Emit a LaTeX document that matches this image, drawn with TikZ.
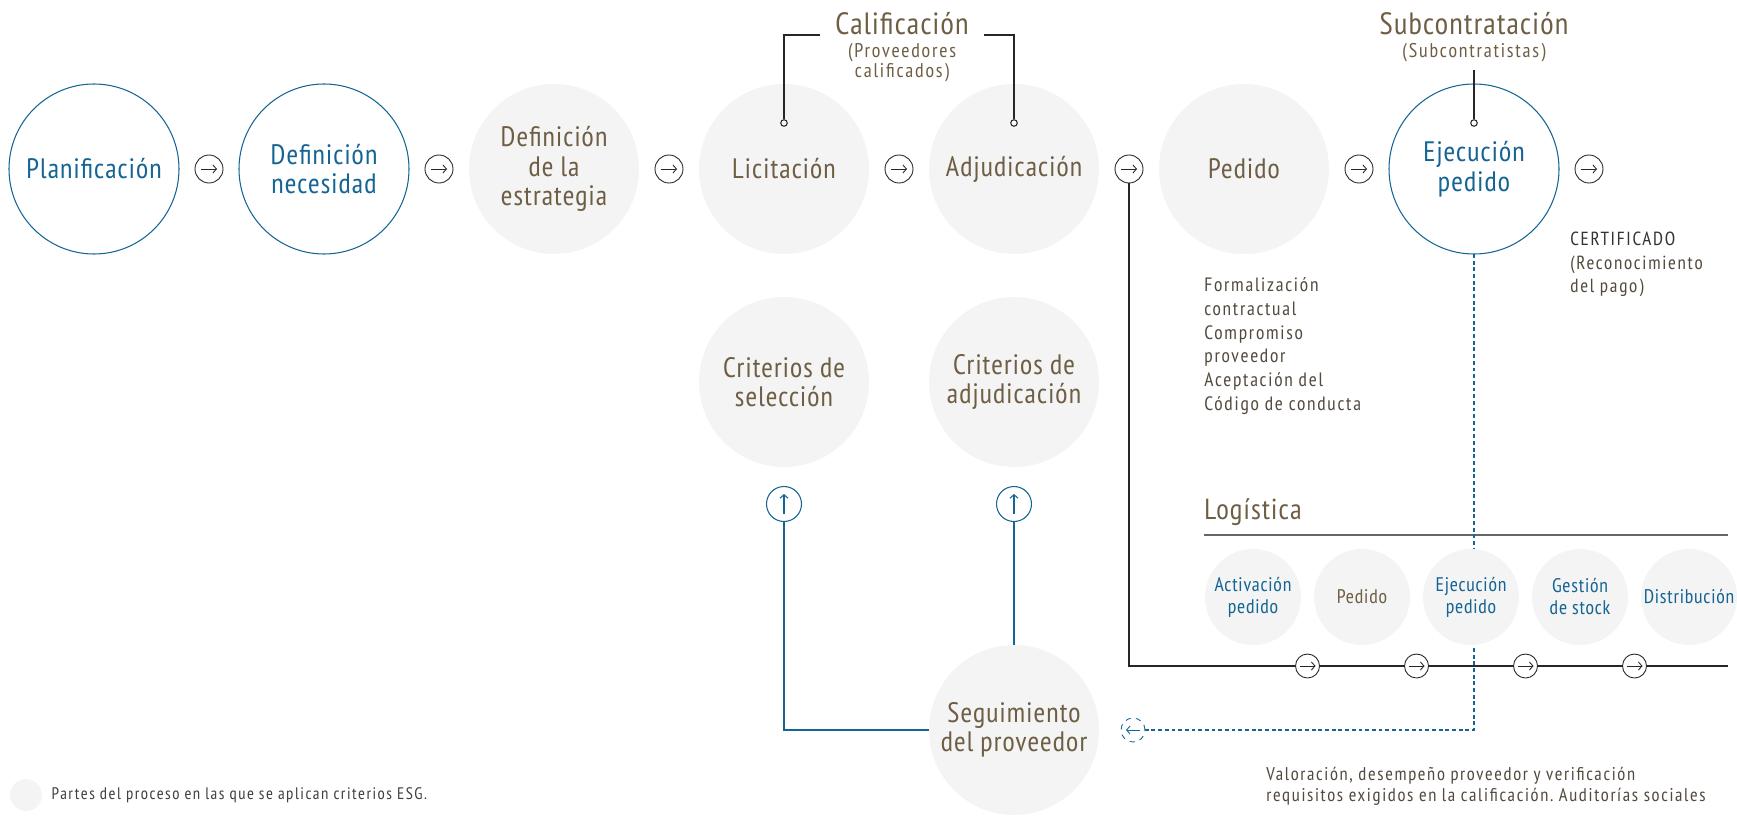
\documentclass[tikz,border=0pt]{standalone}
\usepackage{fontspec}
\setmainfont[LetterSpace=4]{PT Sans Narrow}
\newfontfamily\notefont[LetterSpace=9]{PT Sans Narrow}
\usetikzlibrary{arrows.meta, positioning, calc, backgrounds}
\frenchspacing

\definecolor{esgblue}{RGB}{20,100,148}
\definecolor{esgbrown}{RGB}{110,94,68}
\definecolor{esgfill}{RGB}{244,244,244}
\definecolor{esgtext}{RGB}{82,74,62}

\begin{document}
\begin{tikzpicture}[
    ball/.style={
      circle, fill=esgfill, minimum size=3.4cm, inner sep=0pt, outer sep=0pt,
      align=center, text=esgbrown, font=\fontsize{16}{16.8}\selectfont
    },
    blueball/.style={ball, fill=white, draw=esgblue, line width=0.6pt, text=esgblue},
    minball/.style={
      circle, fill=esgfill, minimum size=1.92cm, inner sep=0pt, outer sep=0pt,
      align=center, text=esgblue, font=\fontsize{11.2}{12.5}\selectfont
    },
    headtip/.style={-{Straight Barb[length=2pt, width=4.6pt]}},
    roundarrow/.style={
      circle, draw=black!85, fill=white, line width=0.5pt, inner sep=0pt,
      outer sep=0pt, minimum size=0.56cm,
      path picture={\draw[black!85, solid, line width=0.5pt, headtip,
        shift={(path picture bounding box.center)}, rotate=#1] (-1.6mm,0) -- (1.6mm,0);}
    },
    roundarrow/.default=0,
    uparrow/.style={
      circle, draw=esgblue, fill=white, line width=0.6pt, inner sep=0pt,
      outer sep=0pt, minimum size=0.7cm,
      path picture={\draw[esgblue, line width=0.6pt, headtip,
        shift={(path picture bounding box.center)}] (0,-2mm) -- (0,2mm);}
    },
    backarrow/.style={
      circle, draw=esgblue, fill=white, dashed, line width=0.5pt, inner sep=0pt,
      outer sep=0pt, minimum size=0.48cm,
      path picture={\draw[esgblue, solid, line width=0.5pt, headtip,
        shift={(path picture bounding box.center)}] (1.4mm,0) -- (-1.4mm,0);}
    },
    dot/.style={circle, draw=black!85, fill=white, line width=0.6pt, minimum size=0.13cm, inner sep=0pt},
    title/.style={inner sep=0pt, text=esgbrown, font=\fontsize{17.5}{19}\selectfont},
    subtitle/.style={inner sep=0pt, align=center, text=esgbrown, font=\notefont\fontsize{11.3}{11.6}\selectfont},
    note/.style={inner sep=0pt, align=left, text=esgtext, font=\notefont\fontsize{11}{13.6}\selectfont},
    bracket/.style={black!85, line width=0.8pt},
    flowline/.style={black!85, line width=0.8pt},
    blueline/.style={esgblue, line width=0.8pt},
    dashline/.style={esgblue, line width=0.7pt, dash pattern=on 2.2pt off 1.6pt},
  ]

  \useasboundingbox (0,0) rectangle (34.74,-16.34);

  % main flow
  \node[blueball] (plan) at (1.88,-3.38) {Planificación};
  \node[roundarrow, right=0.32cm of plan] (r1) {};
  \node[blueball, right=0.32cm of r1] (need) {Definición\\necesidad};
  \node[roundarrow, right=0.32cm of need] (r2) {};
  \node[ball, right=0.32cm of r2] (strat) {Definición\\de la\\estrategia};
  \node[roundarrow, right=0.32cm of strat] (r3) {};
  \node[ball, right=0.32cm of r3] (bid) {Licitación};
  \node[roundarrow, right=0.32cm of bid] (r4) {};
  \node[ball, right=0.32cm of r4] (award) {Adjudicación};
  \node[roundarrow, right=0.32cm of award] (r5) {};
  \node[ball, right=0.32cm of r5] (order) {Pedido};
  \node[roundarrow, right=0.32cm of order] (r6) {};
  \node[blueball, right=0.32cm of r6] (exec) {Ejecución\\pedido};
  \node[roundarrow, right=0.32cm of exec] (r7) {};

  % qualification and subcontracting
  \node[dot] (biddot) at ($(bid)+(0,0.92)$) {};
  \node[dot] (awarddot) at ($(award)+(0,0.92)$) {};
  \node[dot] (execdot) at ($(exec)+(0,0.92)$) {};
  \node[title, anchor=base] (qual) at (18.04,-0.7) {Calificación};
  \node[subtitle, below=0.14cm of qual] (qualsub) {(Proveedores\\calificados)};
  \node[title, anchor=base] (sub) at (exec.center |- qual.base) {Subcontratación};
  \node[subtitle, below=0.14cm of sub] (subsub) {(Subcontratistas)};
  \draw[bracket] ([xshift=-0.3cm]qual.base west) -| (biddot);
  \draw[bracket] ([xshift=0.3cm]qual.base east) -| (awarddot);
  \draw[bracket, shorten <=0.16cm] (subsub.south) -- (execdot);

  \node[note, anchor=north west] (formal) at (24.08,-5.54)
    {Formalización\\contractual\\Compromiso\\proveedor\\Aceptación del\\Código de conducta};
  \node[note, anchor=north west, font=\notefont\fontsize{10.8}{13.3}\selectfont] (cert) at (31.4,-4.64)
    {\textcolor{black!80}{CERTIFICADO}\\(Reconocimiento\\del pago)};

  % criteria and follow-up
  \node[ball, below=0.86cm of bid] (selcrit) {Criterios de\\selección};
  \node[ball, below=0.86cm of award] (awcrit) {Criterios de\\adjudicación};
  \node[uparrow, below=0.39cm of selcrit] (up1) {};
  \node[uparrow, below=0.39cm of awcrit] (up2) {};
  \node[ball, below=2.47cm of up2] (track) {Seguimiento\\del proveedor};
  \node[backarrow, right=0.44cm of track] (back) {};

  % logistics
  \node[title, anchor=base west, font=\fontsize{16.5}{18}\selectfont] (logi) at (24.08,-10.38) {Logística};
  \coordinate (ruleL) at (24.08,-10.7);
  \coordinate (ruleR) at (34.56,-10.7);
  \node[minball] (lact) at (25.06,-11.94) {Activación\\pedido};
  \node[minball, text=esgbrown, right=0.26cm of lact] (lord) {Pedido};
  \node[minball, right=0.26cm of lord] (lexec) {Ejecución\\pedido};
  \node[minball, right=0.26cm of lexec] (lstock) {Gestión\\de stock};
  \node[minball, right=0.26cm of lstock] (ldist) {Distribución};
  \coordinate (lineend) at (34.56,-13.32);
  \node[roundarrow, minimum size=0.48cm] (b1) at ($(lact)!0.5!(lord)+(0,-1.38)$) {};
  \node[roundarrow, minimum size=0.48cm] (b2) at ($(lord)!0.5!(lexec)+(0,-1.38)$) {};
  \node[roundarrow, minimum size=0.48cm] (b3) at ($(lexec)!0.5!(lstock)+(0,-1.38)$) {};
  \node[roundarrow, minimum size=0.48cm] (b4) at ($(lstock)!0.5!(ldist)+(0,-1.38)$) {};

  \node[note, anchor=north west, font=\notefont\fontsize{10.5}{12}\selectfont] (eval) at (25.32,-15.34)
    {Valoración, desempeño proveedor y verificación\\requisitos exigidos en la calificación. Auditorías sociales};

  % legend
  \node[circle, fill=esgfill, minimum size=0.64cm, inner sep=0pt] (key) at (0.52,-15.9) {};
  \node[note, anchor=west, text=black!75, font=\notefont\fontsize{9.5}{12}\selectfont, right=0.18cm of key] (keytext)
    {Partes del proceso en las que se aplican criterios ESG.};

  \begin{scope}[on background layer]
    \draw[gray!80!black, line width=0.8pt] (ruleL) -- (ruleR);
    \draw[flowline] (r5) |- (lineend);
    \draw[dashline] (exec.south) |- (back.east);
    \draw[blueline] (track.west) -| (up1.south);
    \draw[blueline] (track.north) -- (up2.south);
  \end{scope}
\end{tikzpicture}
\end{document}
